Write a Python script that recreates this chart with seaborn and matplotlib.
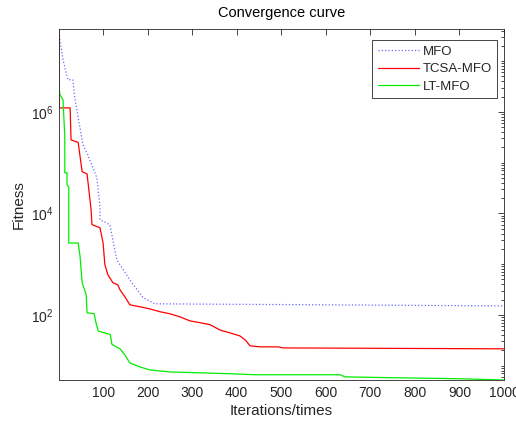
import numpy as np
import pandas as pd
import matplotlib
matplotlib.use("Agg")
import matplotlib.pyplot as plt
from matplotlib.ticker import LogLocator, NullFormatter, FixedLocator
import seaborn as sns

# Best fitness per iteration (breakpoints of each convergence curve)
mfo_iter = [1, 3, 10, 21, 32, 37, 55, 66, 86, 93, 93, 115, 131, 160, 190, 216, 1000]
mfo_fit = [4.3e7, 2.6e7, 1.07e7, 4.3e6, 4.3e6, 1.74e6, 2.2e5, 1.4e5, 5.0e4, 1.35e4,
           7.5e3, 6.0e3, 1.2e3, 490, 217, 165, 150]

tcsa_iter = [1, 1, 26, 28, 44, 53, 64, 73, 75, 93, 100, 104, 111, 122, 133, 138, 149,
             160, 183, 205, 228, 250, 273, 295, 318, 340, 363, 385, 407, 419, 430,
             452, 493, 504, 1000]
tcsa_fit = [4.3e7, 1.2e6, 1.2e6, 2.8e5, 2.5e5, 6.6e4, 6.0e4, 1.18e4, 6.0e3, 5.2e3,
            2.6e3, 970, 610, 430, 390, 310, 226, 158, 144, 131, 115, 105, 91, 76, 70,
            64, 50, 44, 38.5, 32, 24.5, 23.4, 23.4, 22.3, 21.4]

lt_iter = [1, 3, 10, 14, 14, 19, 19, 23, 23, 44, 48, 53, 62, 64, 80, 84, 89, 116, 120,
           138, 149, 160, 183, 205, 250, 318, 385, 443, 632, 643, 733, 901, 1000]
lt_fit = [3.1e6, 2.2e6, 1.74e6, 3.2e5, 6.3e4, 6.3e4, 3.7e4, 3.3e4, 2.6e3, 2.6e3,
          1.5e3, 430, 250, 110, 105, 70, 48, 41, 26, 21.4, 16.2, 11.3, 9.4, 8.2, 7.5,
          7.2, 6.9, 6.6, 6.6, 6.0, 5.8, 5.5, 5.2]

series_names = ["MFO", "TCSA-MFO", "LT-MFO"]
x_ticks = [100, 200, 300, 400, 500, 600, 700, 800, 900, 1000]
y_ticks = [1e2, 1e4, 1e6]

sns.set_theme(style="white")
plt.rcParams["font.family"] = ["Liberation Sans", "DejaVu Sans"]
plt.rcParams["mathtext.fontset"] = "custom"
plt.rcParams["mathtext.rm"] = "Liberation Sans"
plt.rcParams["mathtext.it"] = "Liberation Sans:italic"

fig = plt.figure(figsize=(5.16, 4.21), dpi=100)
ax = fig.add_axes([59 / 516, 41 / 421, 445 / 516, 351 / 421])

styles = [
    (mfo_iter, mfo_fit, "#6a6aff", ":", 0.9),
    (tcsa_iter, tcsa_fit, "#ff0000", "-", 0.9),
    (lt_iter, lt_fit, "#00ee00", "-", 0.9),
]
for name, (xs, ys, col, ls, lw) in zip(series_names, styles):
    df = pd.DataFrame({"Iteration": xs, "Fitness": ys})
    sns.lineplot(data=df, x="Iteration", y="Fitness", ax=ax, estimator=None,
                 sort=False, color=col, linestyle=ls, linewidth=lw, label=name)

ax.set_yscale("log")
all_fit = mfo_fit + tcsa_fit + lt_fit
ax.set_xlim(1, 1000)
ax.set_ylim(min(all_fit), max(all_fit))

ax.xaxis.set_major_locator(FixedLocator(x_ticks))
ax.yaxis.set_major_locator(FixedLocator(y_ticks))
ax.yaxis.set_minor_locator(LogLocator(base=10, subs=np.arange(1, 10), numticks=50))
ax.yaxis.set_minor_formatter(NullFormatter())

txt = "#262626"
ax.tick_params(axis="both", which="both", direction="in", top=True, right=True,
               colors=txt, labelsize=10, width=0.6)
ax.tick_params(axis="both", which="major", length=4, pad=4)
ax.tick_params(axis="y", which="minor", length=2)
for sp in ax.spines.values():
    sp.set_color(txt)
    sp.set_linewidth(0.6)

ax.set_title("Convergence curve", fontsize=10.5, color="black", pad=9)
ax.set_xlabel("Iterations/times", fontsize=11, color=txt, labelpad=3)
ax.set_ylabel("Fitness", fontsize=11, color=txt, labelpad=4)

leg = ax.legend(loc="upper right", bbox_to_anchor=(497 / 516, 381 / 421),
                bbox_transform=fig.transFigure, borderaxespad=0,
                fontsize=9.5, frameon=True, fancybox=False,
                framealpha=1, edgecolor=txt, handlelength=3.1,
                handletextpad=0.3, borderpad=0.4, labelspacing=0.42)
leg.get_frame().set_linewidth(0.6)

fig.savefig("out.png", dpi=100, facecolor="white")
